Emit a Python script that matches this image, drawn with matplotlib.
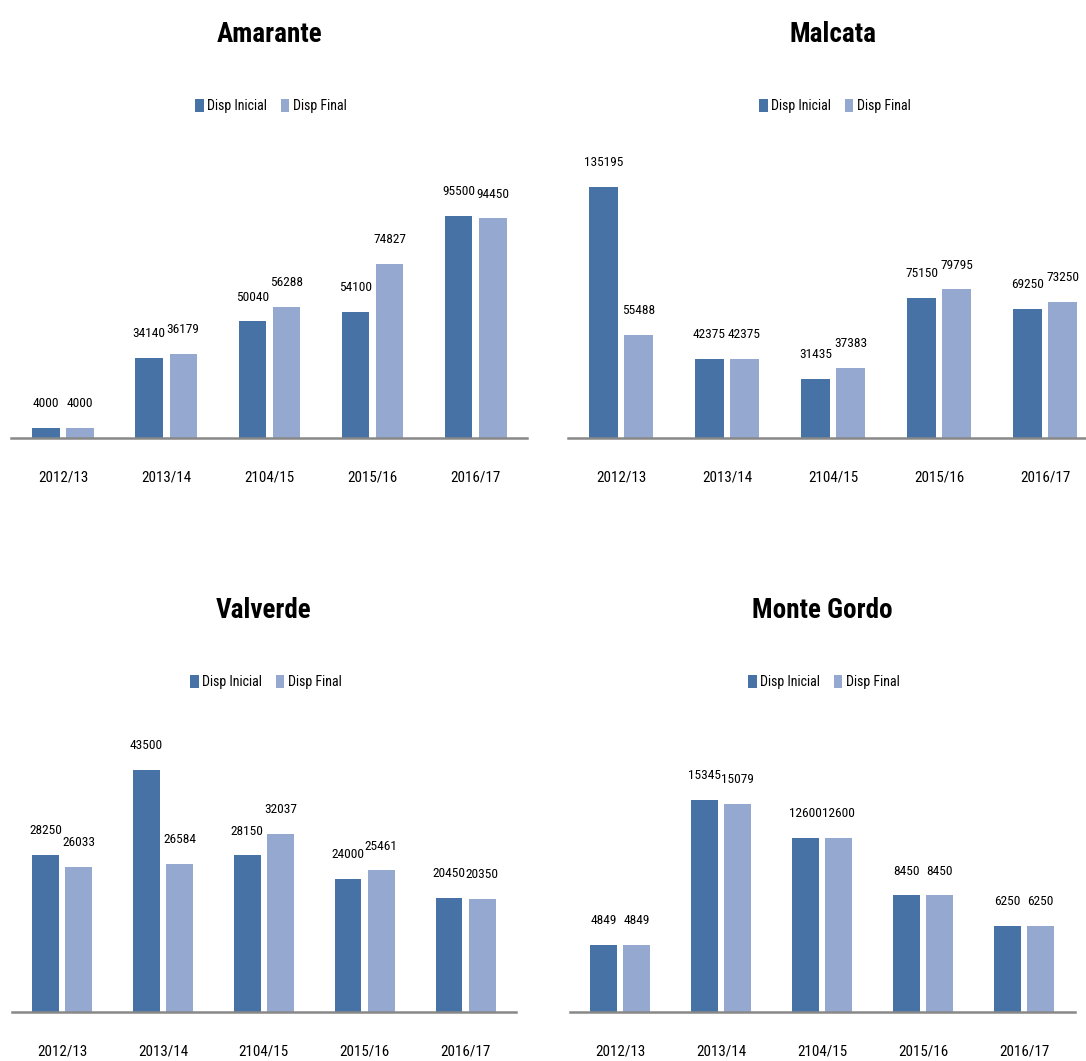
import matplotlib
matplotlib.use("Agg")
import matplotlib.pyplot as plt
from matplotlib import font_manager
import numpy as np

categories = ['2012/13', '2013/14', '2104/15', '2015/16', '2016/17']
series_names = ['Disp Inicial', 'Disp Final']

amarante_ini = [4000, 34140, 50040, 54100, 95500]
amarante_fin = [4000, 36179, 56288, 74827, 94450]
malcata_ini = [135195, 42375, 31435, 75150, 69250]
malcata_fin = [55488, 42375, 37383, 79795, 73250]
valverde_ini = [28250, 43500, 28150, 24000, 20450]
valverde_fin = [26033, 26584, 32037, 25461, 20350]
mgordo_ini = [4849, 15345, 12600, 8450, 6250]
mgordo_fin = [4849, 15079, 12600, 8450, 6250]

DARK = '#4672A6'
LIGHT = '#95A9D0'

# narrow font if there is one
installed = {f.name for f in font_manager.fontManager.ttflist}
family = 'DejaVu Sans'
for cand in ['Liberation Sans Narrow', 'Roboto Condensed', 'Open Sans Condensed']:
    if cand in installed:
        family = cand
        break
plt.rcParams['font.family'] = family
plt.rcParams['font.stretch'] = 'condensed'

W, H = 1086, 1061
fig = plt.figure(figsize=(W / 100, H / 100), dpi=100)


def add_panel(title, ini, fin, left, width, base, ymax, title_xy, leg_xy):
    ax = fig.add_axes([left / W, 1 - base / H, width / W, 290 / H])
    x = np.arange(len(categories))
    bw, off = 0.265, 0.165
    b1 = ax.bar(x - off, ini, bw, color=DARK, label=series_names[0])
    b2 = ax.bar(x + off, fin, bw, color=LIGHT, label=series_names[1])
    for bars, vals in ((b1, ini), (b2, fin)):
        for r, v in zip(bars, vals):
            ax.annotate(str(v), (r.get_x() + r.get_width() / 2, v),
                        xytext=(0, 17.5), textcoords='offset points',
                        ha='center', va='center', fontsize=9.6)
    ax.set_xlim(-0.5, len(categories) - 0.5)
    ax.set_ylim(0, ymax)
    ax.set_xticks(x)
    ax.set_xticklabels(categories, fontsize=10.8)
    ax.tick_params(axis='x', length=0, pad=23.5)
    ax.set_yticks([])
    for s in ['top', 'right', 'left']:
        ax.spines[s].set_visible(False)
    ax.spines['bottom'].set_color('#888888')
    ax.spines['bottom'].set_linewidth(1.8)
    fig.text(title_xy[0] / W, 1 - title_xy[1] / H, title, ha='center', va='center',
             fontsize=19.5, fontweight='bold')
    ax.legend(loc='center', bbox_to_anchor=(leg_xy[0] / W, 1 - leg_xy[1] / H),
              bbox_transform=fig.transFigure, ncol=2, frameon=False, fontsize=10,
              handlelength=0.6, handleheight=1.05, handletextpad=0.25,
              columnspacing=1.0)
    return ax


add_panel('Amarante', amarante_ini, amarante_fin, 11.4, 516, 437.5, 125000, (270, 35), (271, 106))
add_panel('Malcata', malcata_ini, malcata_fin, 568, 530, 437.5, 156300, (833, 35), (835, 106))
add_panel('Valverde', valverde_ini, valverde_fin, 11.6, 504.4, 1012, 52160, (264, 610), (266, 682))
add_panel('Monte Gordo', mgordo_ini, mgordo_fin, 569.5, 505, 1012, 21000, (822, 611), (824, 682))

fig.savefig('out.png', dpi=100)
